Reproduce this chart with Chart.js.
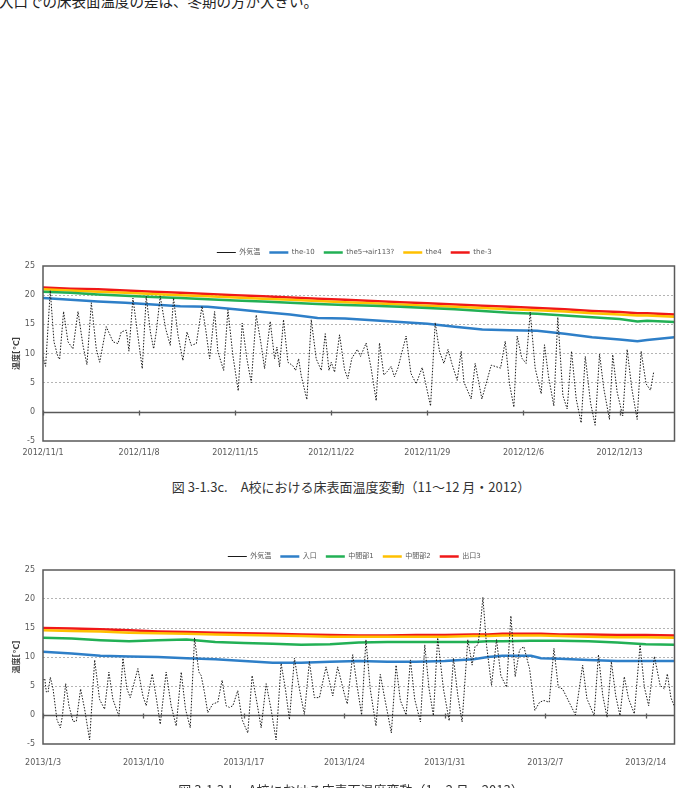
<!DOCTYPE html>
<html lang="ja">
<head>
<meta charset="utf-8">
<script src="https://cdn.jsdelivr.net/npm/chart.js@4.4.1/dist/chart.umd.min.js"></script>
<style>
  body { margin: 0; width: 690px; height: 788px; overflow: hidden; background: #fff; position: relative;
         font-family: 'Noto Sans CJK JP', sans-serif; }
  .lead { position: absolute; left: -1px; top: -6px; font-size: 14.5px; line-height: 1; color: #222; white-space: nowrap; }
  .cap { position: absolute; left: 0; width: 702px; text-align: center; font-size: 13px; line-height: 1; color: #333; white-space: nowrap; }
  canvas { position: absolute; left: 0; }
</style>
</head>
<body>
<div class="lead">入口での床表面温度の差は、冬期の方が大きい。</div>
<canvas id="c1" width="690" height="230" style="top:240px"></canvas>
<div class="cap" style="top:480px">図 3-1.3c.　A校における床表面温度変動（11～12 月・2012）</div>
<canvas id="c2" width="690" height="244" style="top:544px"></canvas>
<div class="cap" style="top:783px">図 3-1.3d.　A校における床表面温度変動（1～2 月・2013）</div>

<script>
// ---- data (days counted from the first axis date) ----
const xTickDays = [0, 7, 14, 21, 28, 35, 42];
const xTickLabels1 = ['2012/11/1', '2012/11/8', '2012/11/15', '2012/11/22', '2012/11/29', '2012/12/6', '2012/12/13'];
const xTickLabels2 = ['2013/1/3', '2013/1/10', '2013/1/17', '2013/1/24', '2013/1/31', '2013/2/7', '2013/2/14'];

const names1 = ['外気温', 'the-10', 'the5→air113?', 'the4', 'the-3'];
const names2 = ['外気温', '入口', '中間部1', '中間部2', '出口3'];

// chart 1 : Nov - Dec 2012
const outDay1 = [0,0.19,0.53,0.8,1.09,1.21,1.5,1.82,2.18,2.55,2.91,3.2,3.52,3.88,4.13,4.61,5.1,5.46,5.7,6.07,
  6.26,6.55,6.84,7.23,7.52,7.82,8.06,8.25,8.54,8.93,9.27,9.51,9.83,10.19,10.49,10.8,11.17,11.58,11.84,12.14,
  12.5,12.74,13.16,13.47,13.83,14.22,14.51,14.85,15.17,15.53,15.9,16.14,16.55,16.87,17.04,17.23,17.52,17.84,18.2,18.4,
  18.62,18.81,19.22,19.54,19.9,20.27,20.56,20.83,21.0,21.24,21.6,21.97,22.2,22.5,22.9,23.13,23.54,23.9,24.27,24.51,
  24.83,25.07,25.36,25.6,25.85,26.1,26.45,26.8,27.18,27.62,28.23,28.57,28.88,29.2,29.5,29.78,30.17,30.46,30.66,31.19,
  31.48,31.97,32.65,33.33,33.67,33.98,34.3,34.54,34.88,35.19,35.49,35.85,36.29,36.53,36.83,37.21,37.5,37.87,38.18,38.5,
  38.84,39.2,39.5,39.88,40.22,40.54,40.85,41.26,41.5,41.82,42.23,42.55,42.89,43.28,43.57,43.93,44.25,44.49];
const outTemp1 = [9.4,7.8,20.8,12,9.4,9.0,17.2,12,10.8,17.2,11.4,8.1,18.7,10.8,8.5,14.6,12.0,11.7,13.7,14.0,
  10.4,19.5,14.3,7.4,19.8,13.7,10.8,13.7,19.8,14.3,11.4,19.5,13.2,8.8,13.7,11.4,11.7,18.1,14.3,9.1,
  17.2,10.3,7.1,17.5,9.7,3.6,15.2,9.1,5.0,16.6,11.4,7.4,15.5,9.1,11.1,7.7,15.8,8.5,7.9,7.1,
  9.1,6.2,2.1,15.8,9.1,7.1,13.4,7.1,8.5,6.8,13.2,7.2,5.7,9.2,10.7,9.5,11.8,7.5,1.9,11.8,
  6.3,6.9,7.8,6.0,7.5,9.8,13.0,6.6,4.8,7.6,1.0,15.3,10.4,8.3,10.7,8.3,5.4,10.4,5.1,2.2,
  8.3,2.2,8.0,7.5,12.1,4.8,0.8,13.0,9.2,8.3,17.1,7.5,3.1,11.5,6.0,1.0,16.2,2.8,0.5,10.4,
  2.2,-1.9,9.5,1.6,-2.3,9.9,4.0,-1.3,9.8,3.4,-0.7,10.7,4.0,-1.3,10.4,4.8,3.7,6.9];

const floorDay1 = [0,2,4,6,8,10,12,14,16,18,20,22,24,26,28,30,32,34,36,38,40,42,43.3,44,46];
const the10 = [19.5,19.2,18.9,18.7,18.4,18.1,18.0,17.6,17.1,16.7,16.1,16.0,15.7,15.4,15.1,14.6,14.1,14.0,13.9,13.4,12.8,12.4,12.1,12.3,12.8];
const the5  = [20.6,20.4,20.1,19.9,19.7,19.5,19.3,19.1,18.9,18.7,18.5,18.3,18.2,18.0,17.8,17.6,17.3,17.0,16.8,16.5,16.2,15.9,15.5,15.6,15.4];
const the4  = [21.0,20.8,20.6,20.4,20.2,20.0,19.8,19.6,19.4,19.2,19.0,18.8,18.6,18.4,18.2,18.0,17.8,17.6,17.4,17.2,16.9,16.7,16.5,16.5,16.3];
const the3  = [21.3,21.1,21.0,20.8,20.6,20.4,20.2,20.0,19.8,19.6,19.4,19.2,19.0,18.8,18.6,18.4,18.2,18.0,17.8,17.6,17.3,17.1,16.9,16.9,16.7];

// chart 2 : Jan - Feb 2013
const outDay2 = [0,0.12,0.23,0.35,0.51,0.7,0.97,1.21,1.35,1.58,1.81,2.09,2.32,2.62,2.9,3.25,3.6,3.94,4.29,4.59,
  4.87,5.29,5.57,5.85,6.08,6.61,6.96,7.19,7.61,7.89,8.17,8.58,8.93,9.28,9.63,9.93,10.26,10.56,10.86,11.02,
  11.25,11.48,11.83,12.18,12.48,12.76,12.99,13.23,13.57,13.87,14.27,14.57,14.9,15.2,15.55,15.89,16.24,16.59,16.89,17.17,
  17.52,17.82,18.21,18.56,18.91,19.26,19.72,20.19,20.53,21.0,
  21.2,21.58,21.88,22.2,22.5,22.8,23.2,23.5,23.8,24.27,24.6,24.9,25.3,25.6,25.9,26.3,26.6,26.9,27.2,27.5,
  27.9,28.3,28.6,28.9,29.2,29.6,29.9,30.1,30.3,30.45,30.65,30.9,31.25,31.6,31.9,32.3,32.6,32.9,33.2,33.5,
  33.9,34.27,34.6,34.9,35.27,35.6,35.9,36.2,36.6,37.1,37.6,37.9,38.4,38.7,39.0,39.3,39.6,39.9,40.2,40.5,
  40.8,41.2,41.6,41.9,42.2,42.6,43.0,43.3,43.5,43.75,43.97];
const outTemp2 = [6.0,6.3,4.0,3.9,6.5,4.5,-0.8,-2.2,-0.2,5.4,1.6,-1.1,-1.1,4.5,1.0,-4.3,9.5,2.7,1.0,7.4,
  2.7,-0.2,9.8,4.5,3.0,8.0,3.3,1.6,7.1,3.0,-1.6,7.4,1.6,-1.9,7.4,1.0,-2.2,13.3,7.4,6.8,
  3.9,0.4,1.9,2.2,6.0,1.6,1.3,1.6,4.2,-0.8,-3.1,6.8,2.2,-2.2,5.4,1.0,-4.3,8.9,4.5,-0.8,
  9.8,5.1,0.1,9.2,3.0,3.0,8.3,3.3,8.3,3.6,
  1.9,10.4,5.1,0,13.0,4.5,-1.9,7.0,3.0,-3.1,8.6,2.5,0,9.5,2.7,-1.2,12.1,4.5,-0.1,13.3,
  4.5,-1.0,9.8,3.4,-1.2,13.0,8.6,11.8,12.1,14.7,20.3,12.1,5.1,13.0,6.8,4.8,17.1,6.6,11.2,11.8,
  8.0,0.8,2.2,2.5,2.2,11.5,4.8,4.5,2.5,0,8.6,2.8,-0.1,10.4,3.4,-0.4,9.2,3.4,-0.1,6.6,
  2.8,0.2,12.1,4.8,1.6,10.1,5.1,4.5,7.1,3.0,1.6];

const floorDay2 = [0,2,4,6,8,10,12,14,16,18,20,22,24,26,28,30,31,32,34,34.7,36,38,40,42,44];
const entrance = [10.9,10.6,10.2,10.1,10.0,9.8,9.6,9.3,9.0,9.0,9.2,9.3,9.2,9.2,9.3,9.6,10.0,10.2,10.2,9.8,9.7,9.5,9.3,9.3,9.3];
const middle1  = [13.3,13.2,12.9,12.7,12.9,13.0,12.6,12.4,12.3,12.1,12.2,12.5,12.6,12.6,12.6,12.6,12.7,12.7,12.8,12.8,12.8,12.7,12.5,12.2,12.1];
const middle2  = [14.6,14.5,14.4,14.2,14.1,14.0,13.9,13.8,13.7,13.6,13.5,13.5,13.5,13.5,13.5,13.6,13.6,13.7,13.7,13.7,13.6,13.5,13.4,13.4,13.3];
const exit3    = [15.0,14.9,14.8,14.6,14.4,14.3,14.2,14.1,14.0,13.9,13.8,13.7,13.7,13.8,13.8,13.9,13.9,14.0,14.0,14.0,13.9,13.9,13.8,13.8,13.7];

const lineColors = ['#1a1a1a', '#2E7FC8', '#22B055', '#FFC000', '#F01818'];

Chart.defaults.font.family = "'DejaVu Sans', 'Noto Sans CJK JP', sans-serif";
Chart.defaults.color = '#595959';

// plot frame, zero line and its day ticks
const framePlugin = {
  id: 'frame',
  afterLayout(chart) {
    // legend sits a little right of the canvas centre in the original
    chart.legend.left += 17;
    chart.legend.right += 17;
  },
  beforeDatasetsDraw(chart) {
    const {ctx, chartArea: a, scales: {x, y}} = chart;
    const y0 = Math.round(y.getPixelForValue(0)) + 0.5;
    ctx.save();
    ctx.strokeStyle = '#595959';
    ctx.lineWidth = 1.3;
    ctx.beginPath();
    ctx.moveTo(a.left, y0);
    ctx.lineTo(a.right, y0);
    xTickDays.forEach(d => {
      const px = Math.round(x.getPixelForValue(d)) + 0.5;
      ctx.moveTo(px, y0 - 2);
      ctx.lineTo(px, y0 + 3);
    });
    ctx.stroke();
    ctx.restore();
  },
  afterDatasetsDraw(chart) {
    const {ctx, chartArea: a} = chart;
    ctx.save();
    ctx.strokeStyle = '#595959';
    ctx.lineWidth = 1.5;
    ctx.strokeRect(a.left, a.top, a.right - a.left, a.bottom - a.top);
    ctx.restore();
  }
};

function pts(days, vals) {
  return days.map((d, i) => ({x: d, y: vals[i]}));
}

function makeChart(id, names, outDay, outTemp, floorDay, floors, xMax, tickLabels, xAxisH, labelPad) {
  const datasets = [{
    label: names[0],
    data: pts(outDay, outTemp),
    borderColor: lineColors[0],
    borderWidth: 1,
    borderDash: [1.5, 1.5]
  }];
  floors.forEach((vals, i) => {
    datasets.push({
      label: names[i + 1],
      data: pts(floorDay, vals),
      borderColor: lineColors[i + 1],
      borderWidth: 2.5
    });
  });
  datasets.forEach(ds => { ds.pointRadius = 0; ds.fill = false; ds.tension = 0; ds.backgroundColor = ds.borderColor; });

  return new Chart(document.getElementById(id), {
    type: 'line',
    data: {datasets},
    plugins: [framePlugin],
    options: {
      responsive: false,
      animation: false,
      events: [],
      layout: {padding: {left: 0, right: 15.5, top: 0, bottom: 0}},
      plugins: {
        legend: {
          position: 'top',
          labels: {
            usePointStyle: true,
            pointStyle: 'line',
            pointStyleWidth: 19,
            padding: 9,
            color: '#595959',
            font: {size: 7}
          }
        },
        tooltip: {enabled: false}
      },
      scales: {
        x: {
          type: 'linear',
          min: 0,
          max: xMax,
          afterBuildTicks: s => { s.ticks = xTickDays.map(v => ({value: v})); },
          afterFit: s => { s.height = xAxisH; },
          grid: {display: false, drawTicks: false},
          border: {display: false},
          ticks: {
            autoSkip: false,
            maxRotation: 0,
            padding: labelPad,
            font: {size: 8},
            callback: v => tickLabels[xTickDays.indexOf(v)]
          }
        },
        y: {
          min: -5,
          max: 25,
          afterFit: s => { s.width = 43; },
          grid: {
            drawTicks: false,
            lineWidth: 1,
            color: c => (c.tick && c.tick.value > -5 && c.tick.value < 25 && c.tick.value !== 0) ? '#b4b4b4' : 'rgba(0,0,0,0)'
          },
          border: {display: false, dash: [2, 2]},
          ticks: {stepSize: 5, padding: 8, font: {size: 8}},
          title: {
            display: true,
            text: '温度[℃]',
            color: '#404040',
            font: {size: 8, weight: 'bold'},
            padding: {top: 12, bottom: 0}
          }
        }
      }
    }
  });
}

makeChart('c1', names1, outDay1, outTemp1, floorDay1, [the10, the5, the4, the3], 46, xTickLabels1, 29, 7);
makeChart('c2', names2, outDay2, outTemp2, floorDay2, [entrance, middle1, middle2, exit3], 44, xTickLabels2, 44, 14);
</script>
</body>
</html>
